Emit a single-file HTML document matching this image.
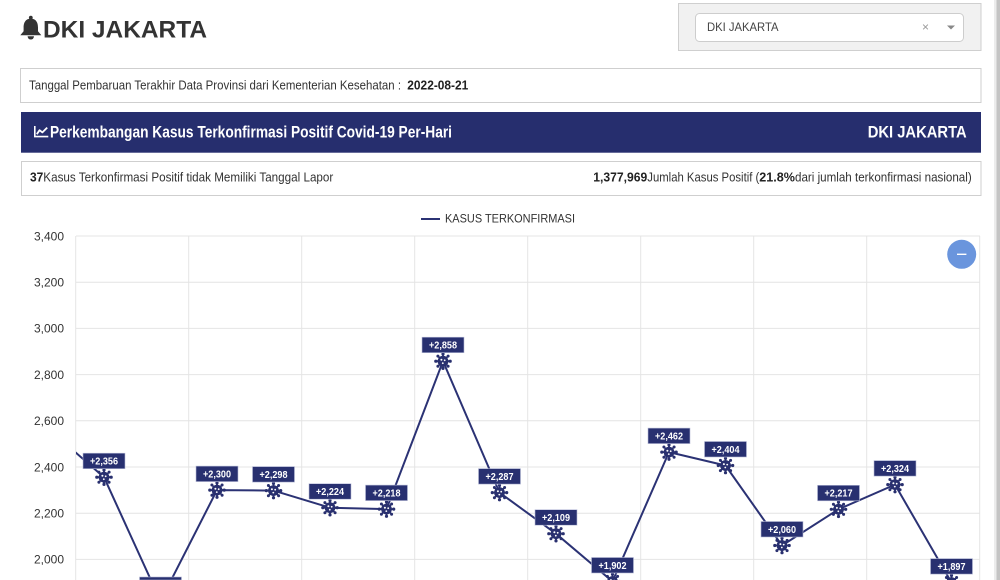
<!DOCTYPE html>
<html>
<head>
<meta charset="utf-8">
<style>
html,body{margin:0;padding:0;background:#fff;}
body{width:1000px;height:580px;overflow:hidden;}
svg{display:block;font-family:"Liberation Sans",Arial,sans-serif;}
</style>
</head>
<body>
<svg width="1000" height="580" viewBox="0 0 1000 580" xmlns="http://www.w3.org/2000/svg">
  <defs>
    <clipPath id="plot"><rect x="76" y="200" width="904" height="380"/></clipPath>
    <clipPath id="page"><rect x="0" y="0" width="1000" height="580"/></clipPath>
    <g id="virus">
      <g stroke="#29306f" stroke-width="1.8" stroke-linecap="round">
        <line x1="0" y1="-4" x2="0" y2="-6.6"/>
        <line x1="0" y1="4" x2="0" y2="6.6"/>
        <line x1="-4" y1="0" x2="-6.6" y2="0"/>
        <line x1="4" y1="0" x2="6.6" y2="0"/>
        <line x1="2.9" y1="2.9" x2="4.7" y2="4.7"/>
        <line x1="-2.9" y1="2.9" x2="-4.7" y2="4.7"/>
        <line x1="2.9" y1="-2.9" x2="4.7" y2="-4.7"/>
        <line x1="-2.9" y1="-2.9" x2="-4.7" y2="-4.7"/>
      </g>
      <g fill="#29306f">
        <circle cx="0" cy="0" r="5.4"/>
        <circle cx="0" cy="-7.2" r="1.6"/><circle cx="0" cy="7.2" r="1.6"/>
        <circle cx="-7.2" cy="0" r="1.6"/><circle cx="7.2" cy="0" r="1.6"/>
        <circle cx="5.1" cy="5.1" r="1.5"/><circle cx="-5.1" cy="5.1" r="1.5"/>
        <circle cx="5.1" cy="-5.1" r="1.5"/><circle cx="-5.1" cy="-5.1" r="1.5"/>
      </g>
      <g fill="#fff">
        <circle cx="-1.6" cy="-1.4" r="1"/><circle cx="1.7" cy="-0.9" r="0.9"/><circle cx="-0.2" cy="2" r="0.9"/>
      </g>
    </g>
  </defs>
<g clip-path="url(#page)">
  <!-- scrollbar -->
  <rect x="994" y="0" width="3" height="580" fill="#ececec"/>
  <rect x="996.5" y="0" width="3.5" height="580" fill="#c4c4c4"/>

  <!-- Title -->
  <g fill="#333">
    <circle cx="30.8" cy="17.6" r="1.9"/>
    <path d="M30.8 18.6 C25.2 18.6 23.6 23.2 23.6 27.4 L23.6 31.2 L20.3 35.2 L41.3 35.2 L38 31.2 L38 27.4 C38 23.2 36.4 18.6 30.8 18.6 Z"/>
    <path d="M27.6 36.3 A3.2 3.2 0 0 0 34 36.3 Z"/>
  </g>
  <text x="43" y="37.5" font-size="24" font-weight="bold" fill="#333" textLength="164" lengthAdjust="spacingAndGlyphs">DKI JAKARTA</text>

  <!-- select -->
  <rect x="678.5" y="3.5" width="302.5" height="47" fill="#f1f1f1" stroke="#cfcfcf"/>
  <rect x="695.5" y="13.5" width="268" height="28" rx="4" fill="#fff" stroke="#cdcdcd"/>
  <text x="707" y="30.8" font-size="12" fill="#444" textLength="71.5" lengthAdjust="spacingAndGlyphs">DKI JAKARTA</text>
  <text x="925.5" y="31" font-size="12" fill="#999" text-anchor="middle">×</text>
  <polygon points="947,25.5 955,25.5 951,29.5" fill="#888"/>

  <!-- info box 1 -->
  <rect x="20.5" y="68.5" width="960.5" height="34" fill="#fff" stroke="#cfcfcf"/>
  <text x="29" y="89.3" font-size="12.5" fill="#333" textLength="372" lengthAdjust="spacingAndGlyphs">Tanggal Pembaruan Terakhir Data Provinsi dari Kementerian Kesehatan :</text>
  <text x="407.3" y="89.3" font-size="12.5" font-weight="bold" fill="#222" textLength="61" lengthAdjust="spacingAndGlyphs">2022-08-21</text>

  <!-- header bar -->
  <rect x="21" y="112" width="960" height="40.7" fill="#262e6e"/>
  <path d="M34.8 126 V136.6 H48.3" fill="none" stroke="#fff" stroke-width="1.6"/>
  <polyline points="36.8,134.2 39.6,130.2 42.4,132.4 47.2,127.6" fill="none" stroke="#fff" stroke-width="1.8" stroke-linejoin="round"/>
  <text x="50" y="137.3" font-size="16.5" font-weight="bold" fill="#fff" textLength="402" lengthAdjust="spacingAndGlyphs">Perkembangan Kasus Terkonfirmasi Positif Covid-19 Per-Hari</text>
  <text x="867.7" y="137.3" font-size="16.5" font-weight="bold" fill="#fff" textLength="99" lengthAdjust="spacingAndGlyphs">DKI JAKARTA</text>

  <!-- info box 2 -->
  <rect x="21.5" y="161.5" width="959.5" height="34" fill="#fff" stroke="#cfcfcf"/>
  <text x="30" y="181.7" font-size="12.5" font-weight="bold" fill="#222" textLength="13.3" lengthAdjust="spacingAndGlyphs">37</text>
  <text x="43.3" y="181.7" font-size="12.5" fill="#333" textLength="290" lengthAdjust="spacingAndGlyphs">Kasus Terkonfirmasi Positif tidak Memiliki Tanggal Lapor</text>
  <text x="593.3" y="181.7" font-size="12.5" font-weight="bold" fill="#222" textLength="54" lengthAdjust="spacingAndGlyphs">1,377,969</text>
  <text x="647.3" y="181.7" font-size="12.5" fill="#333" textLength="112" lengthAdjust="spacingAndGlyphs">Jumlah Kasus Positif (</text>
  <text x="759.3" y="181.7" font-size="12.5" font-weight="bold" fill="#222" textLength="35.7" lengthAdjust="spacingAndGlyphs">21.8%</text>
  <text x="795" y="181.7" font-size="12.5" fill="#333" textLength="176.7" lengthAdjust="spacingAndGlyphs">dari jumlah terkonfirmasi nasional)</text>

  <!-- legend -->
  <line x1="421" y1="219" x2="440" y2="219" stroke="#2b3274" stroke-width="2"/>
  <text x="445" y="222.7" font-size="12" fill="#333" textLength="130" lengthAdjust="spacingAndGlyphs">KASUS TERKONFIRMASI</text>

  <!-- gridlines -->
  <g stroke="#e4e4e4" stroke-width="1">
    <line x1="76" y1="236" x2="980" y2="236"/>
    <line x1="76" y1="282.2" x2="980" y2="282.2"/>
    <line x1="76" y1="328.4" x2="980" y2="328.4"/>
    <line x1="76" y1="374.6" x2="980" y2="374.6"/>
    <line x1="76" y1="420.8" x2="980" y2="420.8"/>
    <line x1="76" y1="467" x2="980" y2="467"/>
    <line x1="76" y1="513.2" x2="980" y2="513.2"/>
    <line x1="76" y1="559.4" x2="980" y2="559.4"/>
    <line x1="75.7" y1="236" x2="75.7" y2="580"/>
    <line x1="188.7" y1="236" x2="188.7" y2="580"/>
    <line x1="301.7" y1="236" x2="301.7" y2="580"/>
    <line x1="414.7" y1="236" x2="414.7" y2="580"/>
    <line x1="527.7" y1="236" x2="527.7" y2="580"/>
    <line x1="640.7" y1="236" x2="640.7" y2="580"/>
    <line x1="753.7" y1="236" x2="753.7" y2="580"/>
    <line x1="866.7" y1="236" x2="866.7" y2="580"/>
    <line x1="979.7" y1="236" x2="979.7" y2="580"/>
  </g>

  <!-- y labels -->
  <g font-size="12" fill="#333" text-anchor="end">
    <text x="64" y="240.3">3,400</text>
    <text x="64" y="286.5">3,200</text>
    <text x="64" y="332.7">3,000</text>
    <text x="64" y="378.9">2,800</text>
    <text x="64" y="425.1">2,600</text>
    <text x="64" y="471.3">2,400</text>
    <text x="64" y="517.5">2,200</text>
    <text x="64" y="563.7">2,000</text>
  </g>

  <!-- line -->
  <polyline clip-path="url(#plot)" fill="none" stroke="#2b3274" stroke-width="2" stroke-linejoin="round"
    points="47.5,428 104,477.2 160.5,601 217,490.1 273.5,490.6 330,507.7 386.5,509.1 443,361.2 499.5,492.6 556,533.7 612.5,581.5 669,452.1 725.5,465.5 782,545.5 838.5,509.3 895,484.6 951.5,582.6"/>

  <!-- markers -->
  <use href="#virus" x="104" y="477.2"/>
  <use href="#virus" x="217" y="490.1"/>
  <use href="#virus" x="273.5" y="490.6"/>
  <use href="#virus" x="330" y="507.7"/>
  <use href="#virus" x="386.5" y="509.1"/>
  <use href="#virus" x="443" y="361.2"/>
  <use href="#virus" x="499.5" y="492.6"/>
  <use href="#virus" x="556" y="533.7"/>
  <use href="#virus" x="612.5" y="581.5"/>
  <use href="#virus" x="669" y="452.1"/>
  <use href="#virus" x="725.5" y="465.5"/>
  <use href="#virus" x="782" y="545.5"/>
  <use href="#virus" x="838.5" y="509.3"/>
  <use href="#virus" x="895" y="484.6"/>
  <use href="#virus" x="951.5" y="582.6"/>

  <!-- labels -->
  <g fill="#283070" stroke="#b8bcd8" stroke-width="0.6">
    <rect x="83" y="453.2" width="42" height="15.5"/>
    <rect x="139.5" y="577" width="42" height="3"/>
    <rect x="196" y="466.1" width="42" height="15.5"/>
    <rect x="252.5" y="466.6" width="42" height="15.5"/>
    <rect x="309" y="483.7" width="42" height="15.5"/>
    <rect x="365.5" y="485.1" width="42" height="15.5"/>
    <rect x="422" y="337.2" width="42" height="15.5"/>
    <rect x="478.5" y="468.6" width="42" height="15.5"/>
    <rect x="535" y="509.7" width="42" height="15.5"/>
    <rect x="591.5" y="557.5" width="42" height="15.5"/>
    <rect x="648" y="428.1" width="42" height="15.5"/>
    <rect x="704.5" y="441.5" width="42" height="15.5"/>
    <rect x="761" y="521.5" width="42" height="15.5"/>
    <rect x="817.5" y="485.3" width="42" height="15.5"/>
    <rect x="874" y="460.6" width="42" height="15.5"/>
    <rect x="930.5" y="558.6" width="42" height="15.5"/>
  </g>
  <g font-size="10" font-weight="bold" fill="#fff" text-anchor="middle">
    <text x="104" y="464.6" textLength="28" lengthAdjust="spacingAndGlyphs">+2,356</text>
    <text x="217" y="477.5" textLength="28" lengthAdjust="spacingAndGlyphs">+2,300</text>
    <text x="273.5" y="478" textLength="28" lengthAdjust="spacingAndGlyphs">+2,298</text>
    <text x="330" y="495.1" textLength="28" lengthAdjust="spacingAndGlyphs">+2,224</text>
    <text x="386.5" y="496.5" textLength="28" lengthAdjust="spacingAndGlyphs">+2,218</text>
    <text x="443" y="348.6" textLength="28" lengthAdjust="spacingAndGlyphs">+2,858</text>
    <text x="499.5" y="480" textLength="28" lengthAdjust="spacingAndGlyphs">+2,287</text>
    <text x="556" y="521.1" textLength="28" lengthAdjust="spacingAndGlyphs">+2,109</text>
    <text x="612.5" y="568.9" textLength="28" lengthAdjust="spacingAndGlyphs">+1,902</text>
    <text x="669" y="439.5" textLength="28" lengthAdjust="spacingAndGlyphs">+2,462</text>
    <text x="725.5" y="452.9" textLength="28" lengthAdjust="spacingAndGlyphs">+2,404</text>
    <text x="782" y="532.9" textLength="28" lengthAdjust="spacingAndGlyphs">+2,060</text>
    <text x="838.5" y="496.7" textLength="28" lengthAdjust="spacingAndGlyphs">+2,217</text>
    <text x="895" y="472" textLength="28" lengthAdjust="spacingAndGlyphs">+2,324</text>
    <text x="951.5" y="570" textLength="28" lengthAdjust="spacingAndGlyphs">+1,897</text>
  </g>

  <!-- minus button -->
  <circle cx="961.7" cy="254.3" r="14.5" fill="#6a95dd"/>
  <line x1="957" y1="254.3" x2="966.4" y2="254.3" stroke="#fff" stroke-width="1.4"/>
</g>
</svg>
</body>
</html>
